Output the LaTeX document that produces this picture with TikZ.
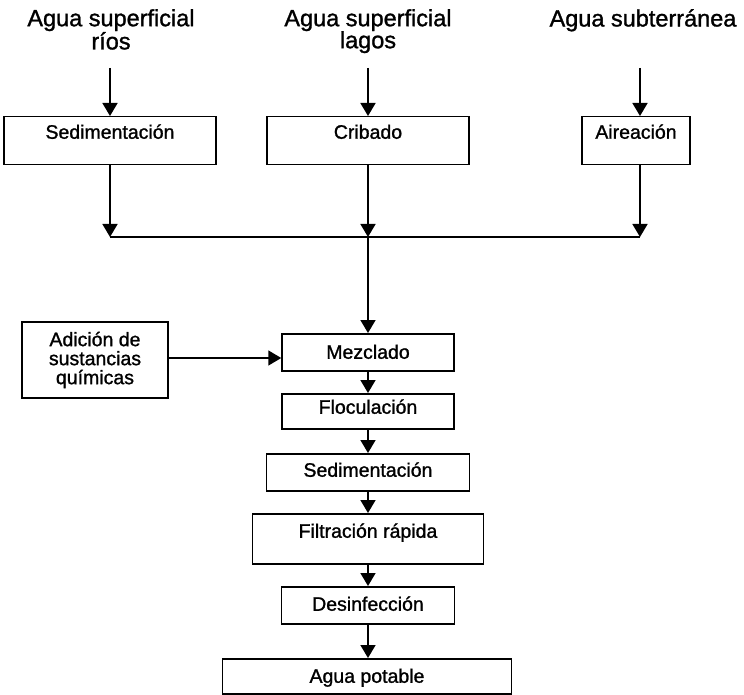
\documentclass[tikz,border=0pt]{standalone}
\usepackage{fontspec}
\setmainfont{Liberation Sans}[FakeBold=1.2,AutoFakeBold=1.2]
\usetikzlibrary{arrows.meta}

\begin{document}
\begin{tikzpicture}[x=1pt,y=-1pt,
  flow/.style={line width=1.6pt},
  arr/.style={flow,-{Triangle[width=15pt,length=13pt]}},
  stage/.style={draw,line width=1.5pt,rectangle,inner sep=0pt,
    font=\fontsize{19.5pt}{19pt}\selectfont\bfseries,anchor=north},
  source/.style={inner sep=0pt,anchor=north,align=center,
    font=\fontsize{23.5pt}{22pt}\selectfont\bfseries}]
\useasboundingbox (0,0) rectangle (744,695);

% water sources
\node[source] (src1) at (111,9) {Agua superficial\\ríos};
\node[source] (src2) at (368,9) {Agua superficial\\lagos};
\node[source] (src3) at (643,9) {Agua subterránea};

% pre-treatment stages
\node[stage,minimum width=212pt,text height=22pt,text depth=26pt] (sed1) at (110,116) {Sedimentación};
\node[stage,minimum width=202pt,text height=22pt,text depth=26pt] (crib) at (368,116) {Cribado};
\node[stage,minimum width=108pt,text height=22pt,text depth=26pt] (aire) at (636,116) {Aireación};

% main treatment line
\node[stage,minimum width=172pt,text height=25pt,text depth=12pt] (mez) at (368,333) {Mezclado};
\node[stage,minimum width=172pt,text height=20pt,text depth=15pt] (floc) at (368,393) {Floculación};
\node[stage,minimum width=203pt,text height=23pt,text depth=14pt] (sed2) at (368,453) {Sedimentación};
\node[stage,minimum width=231pt,text height=24pt,text depth=26pt] (filt) at (368,513) {Filtración rápida};
\node[stage,minimum width=173pt,text height=24pt,text depth=13pt] (desi) at (368,586) {Desinfección};
\node[stage,minimum width=289pt,text height=24pt,text depth=11pt] (pot) at (367,658) {Agua potable};

% chemical dosing
\node[stage,anchor=center,align=center,minimum width=146pt,minimum height=76pt] (quim) at (95,360)
  {Adición de\\sustancias\\químicas};

% arrows from the sources
\coordinate (in1) at (110,68);
\coordinate (in2) at (368,68);
\coordinate (in3) at (640,68);
\draw[arr] (in1) -- (sed1.north);
\draw[arr] (in2) -- (crib.north);
\draw[arr] (in3) -- (in3 |- aire.north);

% collector
\coordinate (busL) at (110,237);
\coordinate (busM) at (368,237);
\coordinate (busR) at (640,237);
\draw[arr] (sed1.south) -- (busL);
\draw[arr] (crib.south) -- (busM);
\draw[arr] (busR |- aire.south) -- (busR);
\draw[flow] (busL) -- (busR);
\draw[arr] (busM) -- (mez.north);

% chemicals into the mixer
\coordinate (dose) at (0,358);
\draw[arr] (quim.east |- dose) -- (mez.west |- dose);

% treatment sequence
\draw[arr] (mez.south) -- (floc.north);
\draw[arr] (floc.south) -- (sed2.north);
\draw[arr] (sed2.south) -- (filt.north);
\draw[arr] (filt.south) -- (desi.north);
\draw[arr] (desi.south) -- (desi.south |- pot.north);
\end{tikzpicture}
\end{document}
